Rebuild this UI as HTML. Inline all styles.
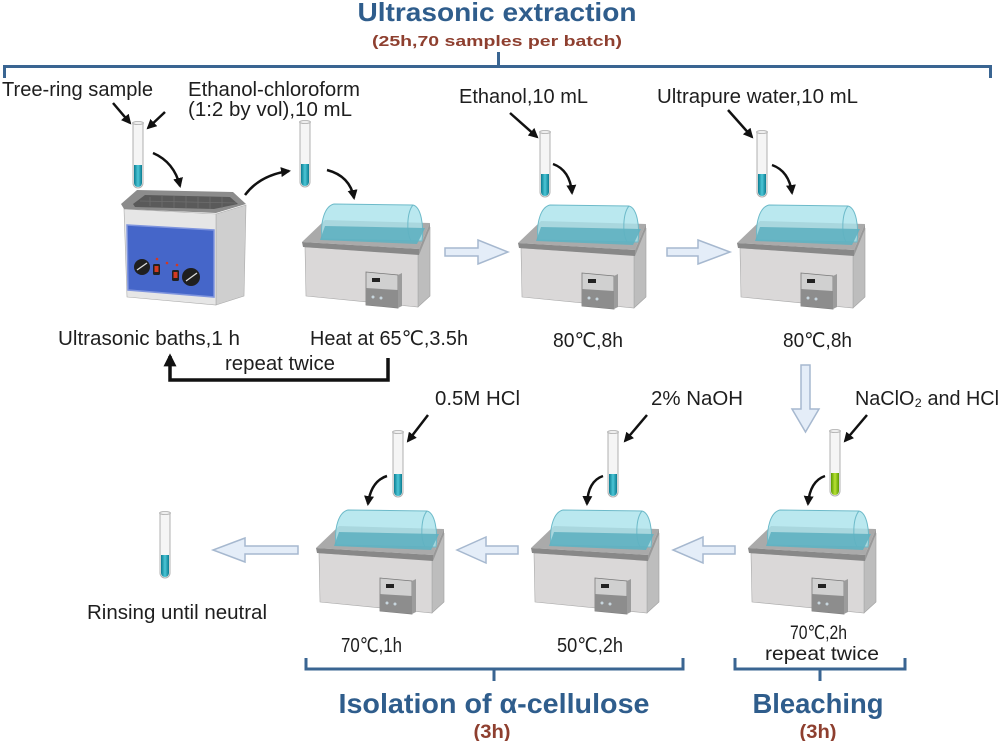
<!DOCTYPE html>
<html><head><meta charset="utf-8"><style>
html,body{margin:0;padding:0;background:#fff;}
svg{display:block;}
text{font-family:"Liberation Sans","DejaVu Sans","Noto Sans CJK SC",sans-serif;fill:#1e1e1e;}
</style></head><body>
<svg width="999" height="741" viewBox="0 0 999 741" xmlns="http://www.w3.org/2000/svg">
<defs>
<marker id="ah" viewBox="0 0 10 10" refX="8" refY="5" markerWidth="10" markerHeight="10" markerUnits="userSpaceOnUse" orient="auto"><path d="M0,0 L10,5 L0,10 z" fill="#111"/></marker>
<marker id="ahb" viewBox="0 0 10 10" refX="8" refY="5" markerWidth="13" markerHeight="13" markerUnits="userSpaceOnUse" orient="auto"><path d="M0,0 L10,5 L0,10 z" fill="#111"/></marker>
<linearGradient id="cy" x1="0" x2="1" y1="0" y2="0"><stop offset="0" stop-color="#0b7d92"/><stop offset="0.5" stop-color="#4cc6d6"/><stop offset="1" stop-color="#0b7d92"/></linearGradient>
<linearGradient id="gr" x1="0" x2="1" y1="0" y2="0"><stop offset="0" stop-color="#5d9a00"/><stop offset="0.5" stop-color="#b8e234"/><stop offset="1" stop-color="#5d9a00"/></linearGradient>
<g id="tube">
<path d="M0,0 V60 A5,5 0 0 0 10,60 V0" fill="#f5f5f5" stroke="#b0b0b0" stroke-width="1"/>
<path d="M1,42 V60 A4,4 0 0 0 9,60 V42 Z" fill="url(#cy)"/>
<ellipse cx="5" cy="0" rx="5.5" ry="1.5" fill="#eee" stroke="#aaa" stroke-width="0.8"/>
</g>
<g id="tubeg">
<path d="M0,0 V60 A5,5 0 0 0 10,60 V0" fill="#f5f5f5" stroke="#b0b0b0" stroke-width="1"/>
<path d="M1,42 V60 A4,4 0 0 0 9,60 V42 Z" fill="url(#gr)"/>
<ellipse cx="5" cy="0" rx="5.5" ry="1.5" fill="#eee" stroke="#aaa" stroke-width="0.8"/>
</g>
<g id="bath">
<polygon points="634,255 646,228 646,297 634,308" fill="#bdbdbd" stroke="#a0a0a0" stroke-width="0.6"/>
<polygon points="521,248 634,255 634,308 522,297" fill="#dad8d8" stroke="#a8a8a8" stroke-width="0.6"/>
<polygon points="518,243 541,221 646,224 635,250" fill="#aaaaaa"/>
<path d="M538,240 C536,222 541,207 550,205 L629,206 C637,208 640,226 638,242 Z" fill="#a9e2eb" fill-opacity="0.8" stroke="#6dbac9" stroke-width="1"/>
<path d="M629,206 C623,213 622,233 627,242" fill="none" stroke="#6dbac9" stroke-width="1"/>
<polygon points="541,227 641,229 633,245 536,241" fill="#5fb1c1" fill-opacity="0.9"/>
<polygon points="518,243 635,250 635,256 519,248" fill="#888"/>
<polygon points="635,250 646,224 646,229 635,256" fill="#999"/>
<polygon points="582,273 614,276 614,309 582,306" fill="#d0d0d0" stroke="#7a7a7a" stroke-width="0.8"/>
<polygon points="582,289 614,291 614,309 582,306" fill="#8d8d8d"/>
<polygon points="614,276 618,274 618,307 614,309" fill="#9c9c9c"/>
<rect x="588" y="279" width="8" height="4" fill="#222"/>
<circle cx="589" cy="298" r="1.5" fill="#c8d6de"/>
<circle cx="597" cy="299" r="1.5" fill="#c8d6de"/>
</g>
</defs>

<!-- Title -->
<text x="497" y="21" text-anchor="middle" font-size="26" font-weight="bold" style="fill:#2f5d8c" textLength="279" lengthAdjust="spacingAndGlyphs">Ultrasonic extraction</text>
<text x="497" y="46" text-anchor="middle" font-size="15" font-weight="bold" style="fill:#8e3f2f" textLength="250" lengthAdjust="spacingAndGlyphs">(25h,70 samples per batch)</text>
<path d="M4.5,78 L4.5,66.5 L990.5,66.5 L990.5,78" fill="none" stroke="#3a6592" stroke-width="3"/>
<path d="M498.5,66.5 L498.5,52" fill="none" stroke="#3a6592" stroke-width="3"/>

<!-- Top labels -->
<text x="2" y="96" font-size="20" textLength="151" lengthAdjust="spacingAndGlyphs">Tree-ring sample</text>
<text x="188" y="96" font-size="20" textLength="172" lengthAdjust="spacingAndGlyphs">Ethanol-chloroform</text>
<text x="188" y="116" font-size="20" textLength="164" lengthAdjust="spacingAndGlyphs">(1:2 by vol),10 mL</text>
<text x="459" y="103" font-size="20" textLength="129" lengthAdjust="spacingAndGlyphs">Ethanol,10 mL</text>
<text x="657" y="103" font-size="20" textLength="201" lengthAdjust="spacingAndGlyphs">Ultrapure water,10 mL</text>

<!-- Ultrasonic bath -->
<polygon points="216,214 246,205 244,296 216,305" fill="#cfcfcf" stroke="#aaa" stroke-width="0.6"/>
<polygon points="124,209 216,214 216,305 127,297" fill="#e6e6e6" stroke="#aaa" stroke-width="0.6"/>
<polygon points="121,204 137,190 233,192 246,204 216,213 124,209" fill="#8c8c8c"/>
<polygon points="133,204 145,195 230,197 238,204 214,209 135,207" fill="#5a5a5a"/>
<path d="M150,197 L150,206 M162,196 L162,207 M174,196 L174,208 M186,196 L186,208 M198,197 L198,209 M210,197 L210,209 M222,197 L222,208 M140,201 L236,203" stroke="#6e6e6e" stroke-width="0.8"/>
<polygon points="127,225 214,230 214,297 128,290" fill="#4566c9" stroke="#7e94de" stroke-width="1.5"/>
<circle cx="142" cy="267" r="8" fill="#1f1f1f"/>
<line x1="137" y1="270" x2="147" y2="263" stroke="#ddd" stroke-width="1.3"/>
<circle cx="191" cy="277" r="9" fill="#1f1f1f"/>
<line x1="186" y1="281" x2="197" y2="273" stroke="#ddd" stroke-width="1.3"/>
<rect x="153" y="264" width="7" height="11" rx="1.5" fill="#222"/>
<rect x="154.5" y="266" width="4" height="6" fill="#d33a22"/>
<rect x="172" y="270" width="7" height="11" rx="1.5" fill="#222"/>
<rect x="173.5" y="272" width="4" height="6" fill="#d33a22"/>
<circle cx="157" cy="259" r="1.3" fill="#d33a22"/>
<circle cx="167" cy="263" r="1.3" fill="#d33a22"/>
<circle cx="177" cy="265" r="1.3" fill="#d33a22"/>

<!-- Water baths -->
<use href="#bath" transform="translate(-216,-1)"/>
<use href="#bath"/>
<use href="#bath" transform="translate(219,0)"/>
<use href="#bath" transform="translate(-202,305)"/>
<use href="#bath" transform="translate(13,305)"/>
<use href="#bath" transform="translate(230,305)"/>

<!-- Tubes -->
<use href="#tube" x="133" y="123"/>
<use href="#tube" x="300" y="122"/>
<use href="#tube" x="540" y="132"/>
<use href="#tube" x="757" y="132"/>
<use href="#tube" x="393" y="432"/>
<use href="#tube" x="608" y="432"/>
<use href="#tubeg" x="830" y="431"/>
<use href="#tube" x="160" y="513"/>

<!-- Black arrows -->
<g fill="none" stroke="#111" stroke-width="2.5">
<path d="M113,103 L130,123" marker-end="url(#ah)"/>
<path d="M165,112 L148,128" marker-end="url(#ah)"/>
<path d="M153,153 Q174,162 180,186" marker-end="url(#ah)"/>
<path d="M245,195 Q260,175 289,171" marker-end="url(#ah)"/>
<path d="M327,170 Q350,176 354,198" marker-end="url(#ah)"/>
<path d="M510,113 L537,137" marker-end="url(#ah)"/>
<path d="M553,164 Q570,170 572,193" marker-end="url(#ah)"/>
<path d="M728,110 L752,137" marker-end="url(#ah)"/>
<path d="M772,165 Q789,171 792,193" marker-end="url(#ah)"/>
<path d="M428,415 L408,441" marker-end="url(#ah)"/>
<path d="M387,476 Q371,481 368,504" marker-end="url(#ah)"/>
<path d="M647,415 L625,441" marker-end="url(#ah)"/>
<path d="M603,476 Q588,481 587,504" marker-end="url(#ah)"/>
<path d="M867,415 L845,441" marker-end="url(#ah)"/>
<path d="M825,476 Q810,481 808,504" marker-end="url(#ah)"/>
</g>

<!-- Repeat loop -->
<path d="M388,358 L388,380 L170,380 L170,356" fill="none" stroke="#111" stroke-width="3.5" marker-end="url(#ahb)"/>
<text x="225" y="370" font-size="20" textLength="110" lengthAdjust="spacingAndGlyphs">repeat twice</text>

<!-- Hollow arrows -->
<g fill="#e4edf8" stroke="#a6b8cf" stroke-width="1.5">
<polygon points="445,248 478,248 478,240 508,252 478,264 478,256 445,256"/>
<polygon points="667,248 698,248 698,240 730,252 698,264 698,256 667,256"/>
<polygon points="801,365 810,365 810,409 819,409 805.5,432 792,409 801,409"/>
<polygon points="518,546 486,546 486,537 457,550 486,563 486,554 518,554"/>
<polygon points="735,546 703,546 703,537 673,550 703,563 703,554 735,554"/>
<polygon points="298,546 245,546 245,538 213,550 245,562 245,554 298,554"/>
</g>

<!-- Mid labels -->
<text x="58" y="345" font-size="20" textLength="182" lengthAdjust="spacingAndGlyphs">Ultrasonic baths,1 h</text>
<text x="310" y="345" font-size="20" textLength="158" lengthAdjust="spacingAndGlyphs">Heat at 65℃,3.5h</text>
<text x="553" y="347" font-size="20" textLength="70" lengthAdjust="spacingAndGlyphs">80℃,8h</text>
<text x="783" y="347" font-size="20" textLength="69" lengthAdjust="spacingAndGlyphs">80℃,8h</text>
<text x="435" y="405" font-size="20" textLength="85" lengthAdjust="spacingAndGlyphs">0.5M HCl</text>
<text x="651" y="405" font-size="20" textLength="92" lengthAdjust="spacingAndGlyphs">2% NaOH</text>
<text x="855" y="405" font-size="20" textLength="144" lengthAdjust="spacingAndGlyphs">NaClO₂ and HCl</text>
<text x="87" y="619" font-size="20" textLength="180" lengthAdjust="spacingAndGlyphs">Rinsing until neutral</text>
<text x="341" y="652" font-size="20" textLength="61" lengthAdjust="spacingAndGlyphs">70℃,1h</text>
<text x="557" y="652" font-size="20" textLength="66" lengthAdjust="spacingAndGlyphs">50℃,2h</text>
<text x="790" y="639" font-size="19" textLength="57" lengthAdjust="spacingAndGlyphs">70℃,2h</text>
<text x="765" y="660" font-size="19" textLength="114" lengthAdjust="spacingAndGlyphs">repeat twice</text>

<!-- Bottom brackets -->
<path d="M306,658 L306,669 L683,669 L683,658" fill="none" stroke="#3a6592" stroke-width="3"/>
<path d="M494,669 L494,681" fill="none" stroke="#3a6592" stroke-width="3"/>
<path d="M735,658 L735,669 L905,669 L905,658" fill="none" stroke="#3a6592" stroke-width="3"/>
<path d="M820,669 L820,681" fill="none" stroke="#3a6592" stroke-width="3"/>
<text x="494" y="713" text-anchor="middle" font-size="28" font-weight="bold" style="fill:#2f5d8c" textLength="311" lengthAdjust="spacingAndGlyphs">Isolation of α-cellulose</text>
<text x="492" y="738" text-anchor="middle" font-size="19" font-weight="bold" style="fill:#8e3f2f" textLength="37" lengthAdjust="spacingAndGlyphs">(3h)</text>
<text x="818" y="713" text-anchor="middle" font-size="28" font-weight="bold" style="fill:#2f5d8c" textLength="131" lengthAdjust="spacingAndGlyphs">Bleaching</text>
<text x="818" y="738" text-anchor="middle" font-size="19" font-weight="bold" style="fill:#8e3f2f" textLength="37" lengthAdjust="spacingAndGlyphs">(3h)</text>
</svg>
</body></html>
